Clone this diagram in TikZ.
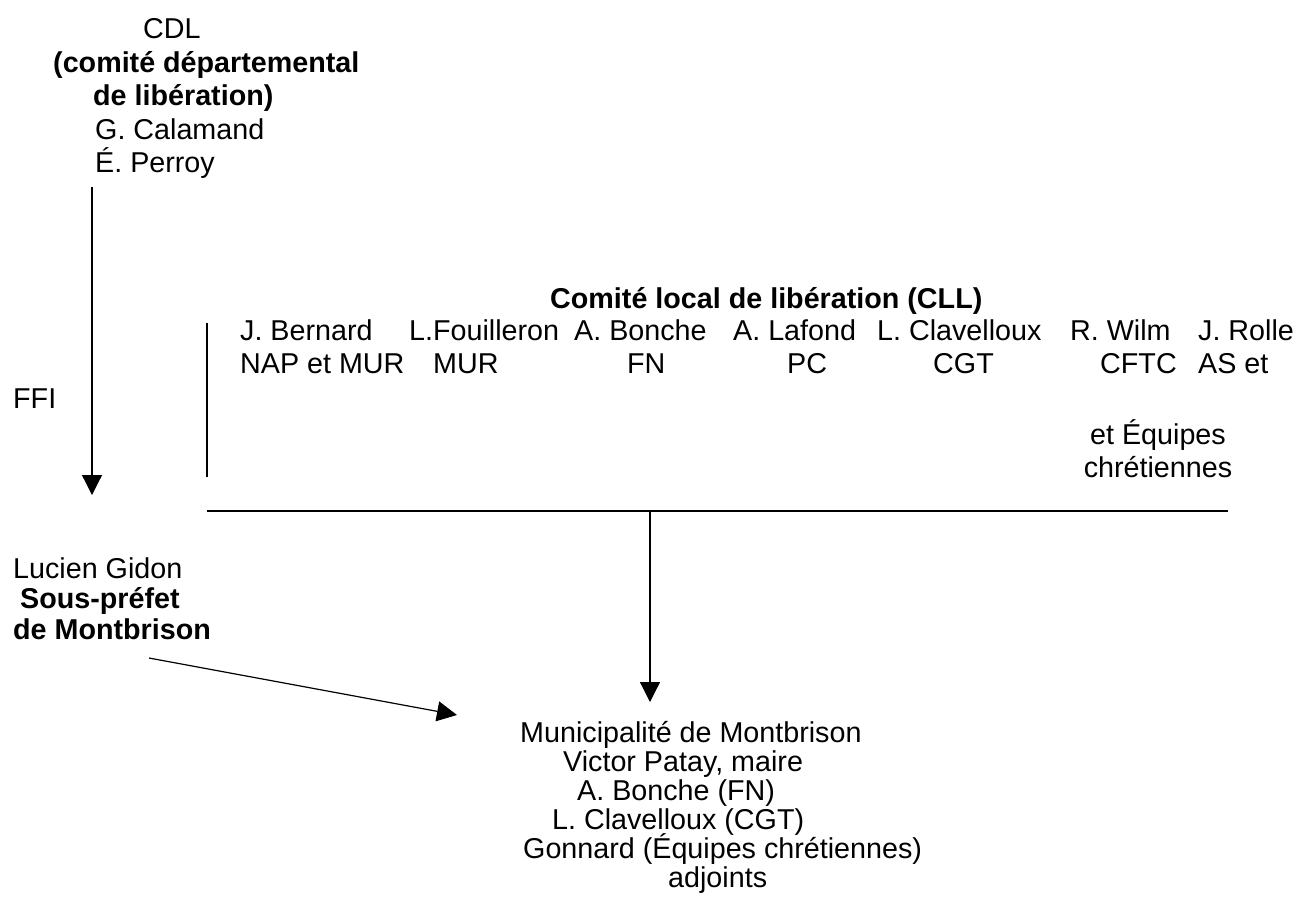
\documentclass[tikz,border=0pt]{standalone}
\usepackage{fontspec}
\setmainfont{Liberation Sans}
\usetikzlibrary{arrows.meta}

\begin{document}
\begin{tikzpicture}[x=1pt,y=-1pt]
    \tikzstyle{txt}=[anchor=base west,inner sep=0pt,font=\fontsize{28.7}{33.5}\selectfont]
    \tikzstyle{txtbold}=[txt,font=\fontsize{28.7}{33.5}\selectfont\bfseries]
    \tikzstyle{edge} = [draw,line width=1.2pt,-{Triangle[length=20pt,width=20pt]}]
    \tikzstyle{edge2} = [draw,line width=1.2pt,-]

    \useasboundingbox (0,0) rectangle (1303,911);

    % CDL
    \node[txt] (cdl) at (143,38) {CDL};
    \node[txtbold] (cdlname) at (53,72) {(comité départemental};
    \node[txtbold] (cdllib) at (93,105) {de libération)};
    \node[txt] (calamand) at (95,139) {G. Calamand};
    \node[txt] (perroy) at (95,172) {É. Perroy};

    \node[txt] (ffi) at (13,408) {FFI};

    % sous-prefet
    \node[txt] (gidon) at (13,578) {Lucien Gidon};
    \node[txtbold] (souspref) at (20,608) {Sous-préfet};
    \node[txtbold] (montbrison) at (13,639) {de Montbrison};

    % CLL
    \node[txtbold] (clltitle) at (550,308) {Comité local de libération (CLL)};
    \node[txt] (bernard) at (240,340) {J. Bernard};
    \node[txt] (fouilleron) at (409,340) {L.Fouilleron};
    \node[txt] (bonche) at (574,340) {A. Bonche};
    \node[txt] (lafond) at (733,340) {A. Lafond};
    \node[txt] (clavelloux) at (877,340) {L. Clavelloux};
    \node[txt] (wilm) at (1070,340) {R. Wilm};
    \node[txt] (rolle) at (1198,340) {J. Rolle};

    \node[txt] (nap) at (240,373) {NAP et MUR};
    \node[txt] (mur) at (433,373) {MUR};
    \node[txt] (fn) at (627,373) {FN};
    \node[txt] (pc) at (787,373) {PC};
    \node[txt] (cgt) at (933,373) {CGT};
    \node[txt] (cftc) at (1100,373) {CFTC};
    \node[txt] (aset) at (1198,373) {AS et};
    \node[txt,anchor=base] (equipes) at (1158,444) {et Équipes};
    \node[txt,anchor=base] (chretiennes) at (1158,477) {chrétiennes};

    % municipalite
    \node[txt] (mun) at (520,742) {Municipalité de Montbrison};
    \node[txt] (patay) at (563,771) {Victor Patay, maire};
    \node[txt] (bonchefn) at (577,800) {A. Bonche (FN)};
    \node[txt] (clavcgt) at (552,829) {L. Clavelloux (CGT)};
    \node[txt] (gonnard) at (523,858) {Gonnard (Équipes chrétiennes)};
    \node[txt] (adjoints) at (668,887) {adjoints};

    \coordinate (cdlout) at (92,187);
    \coordinate (gidonin) at (92,495);
    \coordinate (clltop) at (207,323);
    \coordinate (cllbot) at (207,477);
    \coordinate (barleft) at (207,511);
    \coordinate (barright) at (1228,511);
    \coordinate (barmid) at (650,511);
    \coordinate (muntop) at (650,702);
    \coordinate (gidonout) at (149,658);
    \coordinate (munleft) at (457,715);

    \path[edge] (cdlout) -- (gidonin);
    \path[edge2] (clltop) -- (cllbot);
    \path[edge2] (barleft) -- (barright);
    \path[edge] (barmid) -- (muntop);
    \path[edge] (gidonout) -- (munleft);
\end{tikzpicture}
\end{document}
